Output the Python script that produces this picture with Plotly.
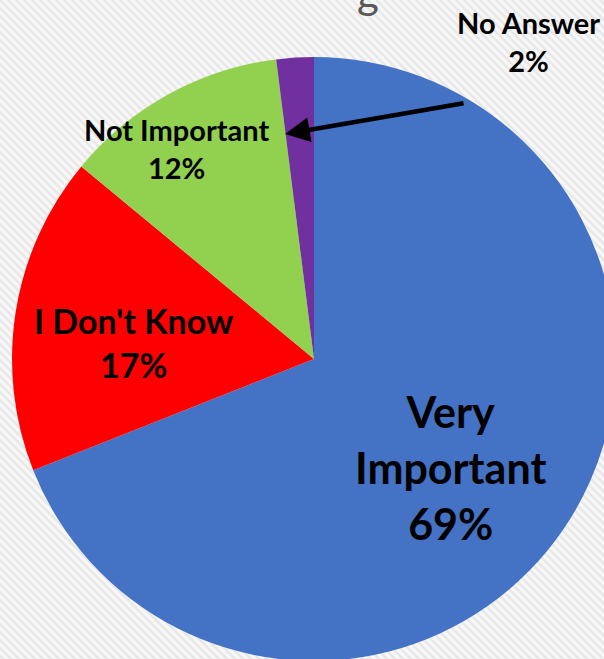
import plotly.graph_objects as go

# Data
categories = ["Very Important", "I Don't Know", "Not Important", "No Answer"]
values = [69, 17, 12, 2]
colors = ["#4472C4", "#FF0000", "#92D050", "#7030A0"]
label_text = ["Very<br>Important<br>69%", "I Don't Know<br>17%", "Not Important<br>12%", "No Answer<br>2%"]

W, H = 640, 680
cx, cy, r = 314, 359, 302  # pie centre/radius in page pixels


def px(x):
    return x / W


def py(y):
    return 1 - y / H


fig = go.Figure()
fig.add_trace(go.Pie(
    labels=categories,
    values=values,
    sort=False,
    direction="clockwise",
    rotation=0,
    marker=dict(colors=colors, line=dict(width=0)),
    textinfo="none",
    hoverinfo="label+percent",
    showlegend=False,
    domain=dict(x=[px(cx - r), px(cx + r)], y=[py(cy + r), py(cy - r)]),
))

# background carbon-like diagonal stripes
shapes = []
step = 8
x0 = -H
while x0 < W:
    shapes.append(dict(type="line", xref="paper", yref="paper",
                       x0=px(x0), y0=py(0), x1=px(x0 + H), y1=py(H),
                       line=dict(color="#e8e8e8", width=2.5), layer="below"))
    x0 += step

font_family = "Lato"
label_pos = [(450, 467, 43), (133, 342, 34), (176, 148, 29), (528, 41, 29)]
annotations = []
for txt, (x, y, s) in zip(label_text, label_pos):
    annotations.append(dict(text="<b>" + txt + "</b>", x=px(x), y=py(y), xref="paper", yref="paper",
                            xanchor="center", yanchor="middle", showarrow=False,
                            font=dict(family=font_family, size=s, color="#000000")))

# arrow from No Answer label to its slice
annotations.append(dict(text="", x=px(285), y=py(134), xref="paper", yref="paper",
                        ax=465 - 285, ay=103 - 134, axref="pixel", ayref="pixel",
                        showarrow=True, arrowhead=2, arrowsize=1.1, arrowwidth=4.5,
                        arrowcolor="#000000", standoff=0))

# partially visible title glyph at the top
annotations.append(dict(text="g", x=px(368), y=py(20), xref="paper", yref="paper",
                        xanchor="center", yanchor="bottom", showarrow=False,
                        font=dict(family=font_family, size=42, color="#595959")))

fig.update_layout(
    width=W, height=H,
    margin=dict(l=0, r=0, t=0, b=0),
    paper_bgcolor="#f7f7f7",
    plot_bgcolor="#f7f7f7",
    shapes=shapes,
    annotations=annotations,
)

fig.write_html("out.html", config={"displayModeBar": False},
               post_script="document.body.style.margin='0';document.body.style.overflow='hidden';document.documentElement.style.overflow='hidden';")
